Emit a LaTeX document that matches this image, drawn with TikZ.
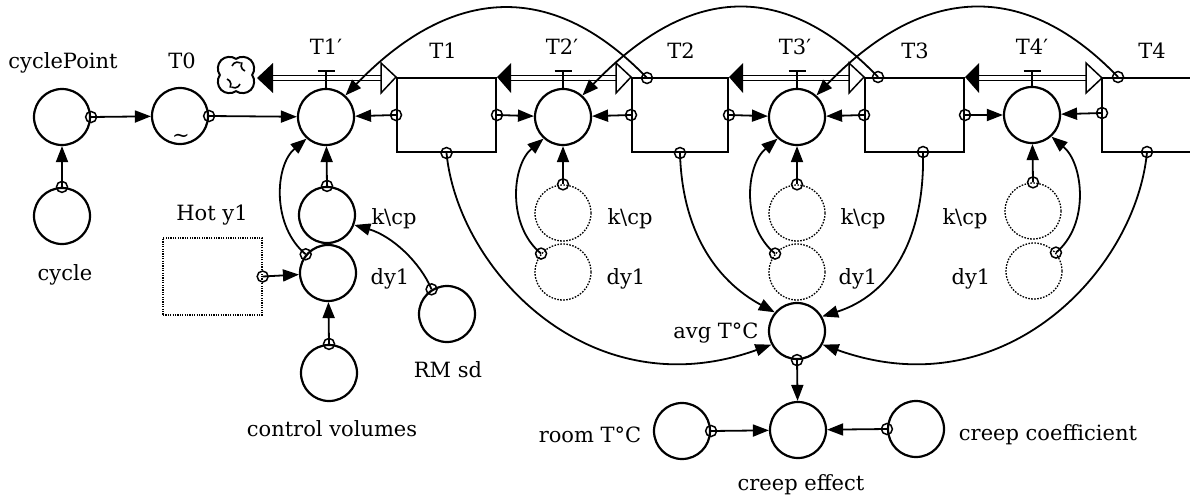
\documentclass[tikz,border=0pt]{standalone}
\usepackage{fontspec}
\setmainfont{DejaVu Serif}
\usetikzlibrary{arrows.meta,shapes.symbols}
\newcommand\srcdot[1]{\draw[line width=1.5pt] (#1) circle[radius=5.5];}
\begin{document}
\begin{tikzpicture}[x=1pt,y=-1pt,
  font=\fontsize{21}{25}\selectfont,
  conv/.style={circle,draw,line width=2.2pt,minimum size=56pt,inner sep=0pt},
  ghost/.style={circle,draw,line width=1.3pt,dash pattern=on 1.6pt off 1.4pt,minimum size=56pt,inner sep=0pt},
  conn/.style={line width=1.8pt,-{Triangle[length=16pt,width=12pt]}},
  stockbox/.style={rectangle,draw,line width=2pt,inner sep=0pt},
  pipe/.style={double distance=3.5pt,line width=1.5pt},
  lbl/.style={inner sep=0pt,anchor=base},
  valve/.style={line width=1.8pt}
]
\useasboundingbox (0,0) rectangle (1190,498);

% stocks
\node[stockbox,minimum width=99pt,minimum height=74pt] (s1) at (446.5,115) {};
\node[stockbox,minimum width=96pt,minimum height=74pt] (s2) at (680,115) {};
\node[stockbox,minimum width=99pt,minimum height=74pt] (s3) at (914.5,115) {};
\draw[line width=2pt] (1190,78) -- (1102,78) -- (1102,152) -- (1190,152);
\coordinate (s4l) at (1102,113);
\coordinate (s4b) at (1147,152);
\coordinate (s2t) at (647,78);
\coordinate (s3t) at (878,77);
\coordinate (s4t) at (1118,77);
\coordinate (s3b) at (923,152);
\coordinate (vy) at (0,71);

% converters
\node[conv] (cp) at (62,117) {};
\node[conv] (cyc) at (62,216) {};
\node[conv] (T0) at (180,116) {};
\node[conv] (f1) at (326,117) {};
\node[conv] (k1) at (327,215) {};
\node[conv] (d1) at (328,273) {};
\node[conv] (rm) at (447,314) {};
\node[conv] (cv) at (329,373) {};
\node[conv] (f2) at (563,117) {};
\node[ghost] (k2) at (563,213) {};
\node[ghost] (d2) at (563,272) {};
\node[conv] (f3) at (797,117) {};
\node[ghost] (k3) at (797,213) {};
\node[ghost] (d3) at (797,272) {};
\node[conv] (f4) at (1032,115) {};
\node[ghost] (k4) at (1033,211) {};
\node[ghost] (d4) at (1034,271) {};
\node[conv] (avg) at (797,331) {};
\node[conv] (ce) at (798,430) {};
\node[conv] (room) at (682,431) {};
\node[conv] (cc) at (916,429) {};
\node[draw,line width=1.3pt,dash pattern=on 1.2pt off 1.2pt,minimum width=99pt,minimum height=77pt,inner sep=0pt] (hot) at (212.5,276.5) {};
\node[cloud,cloud puffs=4,cloud puff arc=160,aspect=1,draw,line width=2pt,minimum width=42pt,minimum height=42pt,inner sep=0pt,rotate=45] (cloud) at (236,75) {};
\draw[line width=1.6pt] (cloud.center) ++(-4,-9) arc[start angle=200,end angle=300,radius=6];
\draw[line width=1.6pt] (cloud.center) ++(9,-4) arc[start angle=110,end angle=210,radius=6];
\draw[line width=1.6pt] (cloud.center) ++(4,9) arc[start angle=20,end angle=120,radius=6];
\draw[line width=1.6pt] (cloud.center) ++(-9,4) arc[start angle=290,end angle=390,radius=6];
\node[inner sep=0pt] (tilde) at (181,138) {\textasciitilde};

% pipes
\draw[pipe] (273,78) -- (381,78);
\fill (257,78) -- (273,63) -- (273,93) -- cycle;
\draw[line width=1.5pt,fill=white] (381,63) -- (s1.north west) -- (381,93) -- cycle;
\draw[pipe] (511,78) -- (616,78);
\fill (s1.north east) -- (511,63) -- (511,93) -- cycle;
\draw[line width=1.5pt,fill=white] (616,63) -- (s2.north west) -- (616,93) -- cycle;
\draw[pipe] (743,78) -- (849,78);
\fill (s2.north east) -- (743,63) -- (743,93) -- cycle;
\draw[line width=1.5pt,fill=white] (849,63) -- (s3.north west) -- (849,93) -- cycle;
\draw[pipe] (979,78) -- (1086,78);
\fill (s3.north east) -- (979,63) -- (979,93) -- cycle;
\draw[line width=1.5pt,fill=white] (1086,63) -- (1102,78) -- (1086,93) -- cycle;

% valves
\foreach \f in {f1,f2,f3,f4}{
  \draw[valve] (\f.north) -- (\f.north |- vy);
  \draw[valve] ([xshift=-8.5pt]\f.north |- vy) -- ([xshift=8.5pt]\f.north |- vy);
}

% straight connectors
\draw[conn] (cyc.north) -- (cp); \srcdot{cyc.north}
\draw[conn] (cp.east) -- (T0); \srcdot{cp.east}
\draw[conn] (T0.east) -- (f1); \srcdot{T0.east}
\draw[conn] (s1.west) -- (f1); \srcdot{s1.west}
\draw[conn] (s1.east) -- (f2); \srcdot{s1.east}
\draw[conn] (s2.west) -- (f2); \srcdot{s2.west}
\draw[conn] (s2.east) -- (f3); \srcdot{s2.east}
\draw[conn] (s3.west) -- (f3); \srcdot{s3.west}
\draw[conn] (s3.east) -- (f4); \srcdot{s3.east}
\draw[conn] (s4l) -- (f4); \srcdot{s4l}
\foreach \k/\f in {k1/f1,k2/f2,k3/f3,k4/f4}{
  \draw[conn] (\k.north) -- (\f); \srcdot{\k.north}
}
\draw[conn] (hot.east) -- (d1); \srcdot{hot.east}
\draw[conn] (cv.north) -- (d1); \srcdot{cv.north}
\draw[conn] (avg.south) -- (ce); \srcdot{avg.south}
\draw[conn] (room.east) -- (ce); \srcdot{room.east}
\draw[conn] (cc.west) -- (ce); \srcdot{cc.west}

% curved connectors dy1 -> flows
\draw[conn] (d1.140) .. controls +(-34,-28) and +(-32,27) .. (f1.228); \srcdot{d1.140}
\draw[conn] (d2.140) .. controls +(-34,-28) and +(-32,27) .. (f2.228); \srcdot{d2.140}
\draw[conn] (d3.140) .. controls +(-34,-28) and +(-32,27) .. (f3.228); \srcdot{d3.140}
\draw[conn] (d4.40) .. controls +(34,-28) and +(32,27) .. (f4.-48); \srcdot{d4.40}
\draw[conn] (rm.122) .. controls (420,262) and (392,236) .. (k1.-20); \srcdot{rm.122}

% big arcs
\draw[conn] (s2t) .. controls +(-100,-104) and +(100,-104) .. (f1.48); \srcdot{s2t}
\draw[conn] (s3t) .. controls +(-100,-104) and +(100,-104) .. (f2.48); \srcdot{s3t}
\draw[conn] (s4t) .. controls +(-100,-104) and +(100,-104) .. (f3.48); \srcdot{s4t}

% stocks to average
\draw[conn] (s1.south) .. controls (458,270) and (590,410) .. (avg.208); \srcdot{s1.south}
\draw[conn] (s2.south) .. controls (682,230) and (715,280) .. (avg.140); \srcdot{s2.south}
\draw[conn] (s3b) .. controls (925,240) and (890,295) .. (avg.30); \srcdot{s3b}
\draw[conn] (s4b) .. controls (1136,270) and (1004,410) .. (avg.-28); \srcdot{s4b}

% labels
\node[lbl] (Lcp) at (63,68) {cyclePoint};
\node[lbl] (LT0) at (182,68) {T0};
\node[lbl] (Lf1) at (326,54) {T1′};
\node[lbl] (Ls1) at (443,58) {T1};
\node[lbl] (Lf2) at (562,54) {T2′};
\node[lbl] (Ls2) at (681,58) {T2};
\node[lbl] (Lf3) at (795,54) {T3′};
\node[lbl] (Ls3) at (915,58) {T3};
\node[lbl] (Lf4) at (1032,54) {T4′};
\node[lbl] (Ls4) at (1152,58) {T4};
\node[lbl] (Lk1) at (394,224) {k\textbackslash cp};
\node[lbl] (Lk2) at (630,224) {k\textbackslash cp};
\node[lbl] (Lk3) at (863,224) {k\textbackslash cp};
\node[lbl] (Lk4) at (965,224) {k\textbackslash cp};
\node[lbl] (Ld1) at (390,284) {dy1};
\node[lbl] (Ld2) at (626,284) {dy1};
\node[lbl] (Ld3) at (858,284) {dy1};
\node[lbl] (Ld4) at (971,284) {dy1};
\node[lbl] (Lhot) at (212,220) {Hot y1};
\node[lbl] (Lcyc) at (65,280) {cycle};
\node[lbl] (Lrm) at (448,377) {RM sd};
\node[lbl] (Lcv) at (332,436) {control volumes};
\node[lbl] (Lavg) at (716,338) {avg T°C};
\node[lbl] (Lroom) at (590,442) {room T°C};
\node[lbl] (Lcc) at (1048,440) {creep coefficient};
\node[lbl] (Lce) at (801,490) {creep effect};
\end{tikzpicture}
\end{document}
